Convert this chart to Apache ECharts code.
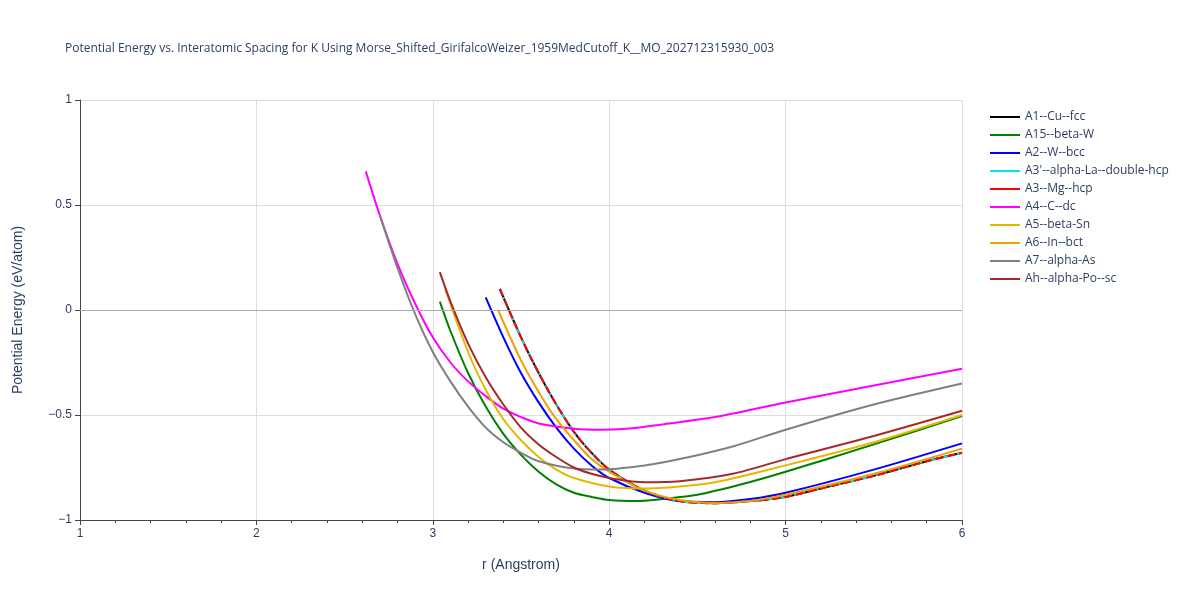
<!DOCTYPE html><html><head><meta charset="utf-8"><script src="https://cdn.jsdelivr.net/npm/echarts@6/dist/echarts.min.js"></script></head><body style="margin:0"><div id="c" style="width:1200px;height:600px"></div><script>
const fcc=[[3.38,0.1],[3.5,-0.13],[3.6,-0.3],[3.7,-0.45],[3.8,-0.58],[3.9,-0.68],[4.0,-0.76],[4.2,-0.86],[4.4,-0.91],[4.6,-0.92],[4.8,-0.91],[5.0,-0.89],[5.2,-0.85],[5.5,-0.79],[5.8,-0.72],[6.0,-0.68]];
const a15=[[3.04,0.04],[3.1,-0.1],[3.2,-0.3],[3.3,-0.46],[3.4,-0.59],[3.5,-0.69],[3.6,-0.77],[3.7,-0.83],[3.8,-0.87],[3.9,-0.89],[4.0,-0.905],[4.15,-0.91],[4.3,-0.9],[4.5,-0.88],[4.75,-0.83],[5.0,-0.77],[5.5,-0.64],[6,-0.505]];
const bcc=[[3.3,0.06],[3.4,-0.13],[3.5,-0.3],[3.6,-0.44],[3.7,-0.56],[3.8,-0.66],[3.9,-0.74],[4.0,-0.8],[4.2,-0.87],[4.4,-0.91],[4.6,-0.915],[4.8,-0.9],[5.0,-0.87],[5.5,-0.76],[6,-0.635]];
const dc=[[2.62,0.66],[2.7,0.45],[2.8,0.22],[2.9,0.03],[3.0,-0.13],[3.1,-0.25],[3.2,-0.34],[3.3,-0.41],[3.4,-0.47],[3.5,-0.51],[3.6,-0.54],[3.8,-0.565],[3.95,-0.57],[4.1,-0.565],[4.3,-0.545],[4.6,-0.51],[5.0,-0.44],[5.5,-0.36],[6,-0.28]];
const sn=[[3.07,0.1],[3.2,-0.2],[3.3,-0.38],[3.4,-0.52],[3.5,-0.62],[3.6,-0.7],[3.7,-0.76],[3.8,-0.8],[4.0,-0.84],[4.2,-0.85],[4.4,-0.84],[4.6,-0.82],[5.0,-0.74],[5.5,-0.63],[6,-0.5]];
const bct=[[3.37,0],[3.5,-0.24],[3.6,-0.39],[3.7,-0.52],[3.8,-0.62],[3.9,-0.71],[4.0,-0.77],[4.2,-0.86],[4.4,-0.905],[4.6,-0.92],[4.8,-0.91],[5.0,-0.88],[5.5,-0.78],[6,-0.66]];
const as=[[2.7,0.45],[2.8,0.2],[2.9,-0.02],[3.0,-0.2],[3.1,-0.34],[3.2,-0.46],[3.3,-0.56],[3.4,-0.63],[3.5,-0.68],[3.6,-0.72],[3.8,-0.755],[3.95,-0.76],[4.2,-0.74],[4.4,-0.71],[4.7,-0.65],[5,-0.57],[5.5,-0.45],[6,-0.35]];
const sc=[[3.04,0.18],[3.1,0.04],[3.2,-0.16],[3.3,-0.32],[3.4,-0.45],[3.5,-0.56],[3.6,-0.64],[3.7,-0.7],[3.8,-0.75],[3.9,-0.78],[4.0,-0.8],[4.2,-0.82],[4.4,-0.815],[4.7,-0.78],[5,-0.71],[5.5,-0.6],[6,-0.48]];
const defs=[["A1--Cu--fcc",fcc,"#000000","solid"],["A15--beta-W",a15,"#008000","solid"],["A2--W--bcc",bcc,"#0000ff","solid"],["A3'--alpha-La--double-hcp",fcc,"#00e5e5","dashdot"],["A3--Mg--hcp",fcc,"#ff0000","dashed"],["A4--C--dc",dc,"#ff00ff","solid"],["A5--beta-Sn",sn,"#e5b800","solid"],["A6--In--bct",bct,"#f0a000","solid"],["A7--alpha-As",as,"#808080","solid"],["Ah--alpha-Po--sc",sc,"#a52a2a","solid"]];
const ch=echarts.init(document.getElementById('c'));
ch.setOption({animation:false,backgroundColor:'#fff',
title:{text:'Potential Energy vs. Interatomic Spacing for K Using Morse_Shifted_GirifalcoWeizer_1959MedCutoff_K__MO_202712315930_003',left:60,top:38,textStyle:{fontSize:12,fontWeight:'normal',color:'#2a3f5f',fontFamily:'Open Sans'}},
legend:{orient:'vertical',left:985,top:106,itemGap:6,itemWidth:30,icon:'path://M0,0H30V2H0Z',textStyle:{fontSize:12,color:'#2a3f5f',fontFamily:'Open Sans'},data:defs.map(d=>d[0])},
grid:{left:80,right:238,top:100,bottom:80},
xAxis:{type:'value',min:1,max:6,interval:1,name:'r (Angstrom)',nameLocation:'middle',nameGap:38,nameTextStyle:{fontSize:14,color:'#2a3f5f'},axisLine:{onZero:false,lineStyle:{color:'#444'}},axisTick:{show:true,length:5},minorTick:{show:true,splitNumber:5,length:3},axisLabel:{color:'#2a3f5f'},splitLine:{lineStyle:{color:'#ddd'}}},
yAxis:{type:'value',min:-1,max:1,interval:0.5,name:'Potential Energy (eV/atom)',nameLocation:'middle',nameGap:55,nameTextStyle:{fontSize:14,color:'#2a3f5f'},axisLine:{show:true,lineStyle:{color:'#444'}},axisTick:{show:true,length:5},axisLabel:{color:'#2a3f5f',formatter:v=>String(v).replace('-','−')},splitLine:{lineStyle:{color:'#ddd'}}},
series:defs.map(d=>({name:d[0],type:'line',data:d[1],smooth:0.3,showSymbol:false,symbol:'none',lineStyle:{color:d[2],width:2,type:d[3]==='dashdot'?[6,3,2,3]:d[3]},itemStyle:{color:d[2]},
markLine:d[0]==='A1--Cu--fcc'?{silent:true,symbol:'none',label:{show:false},lineStyle:{color:'#aaa',type:'solid',width:1},data:[{yAxis:0}]}:undefined}))
});
</script></body></html>
